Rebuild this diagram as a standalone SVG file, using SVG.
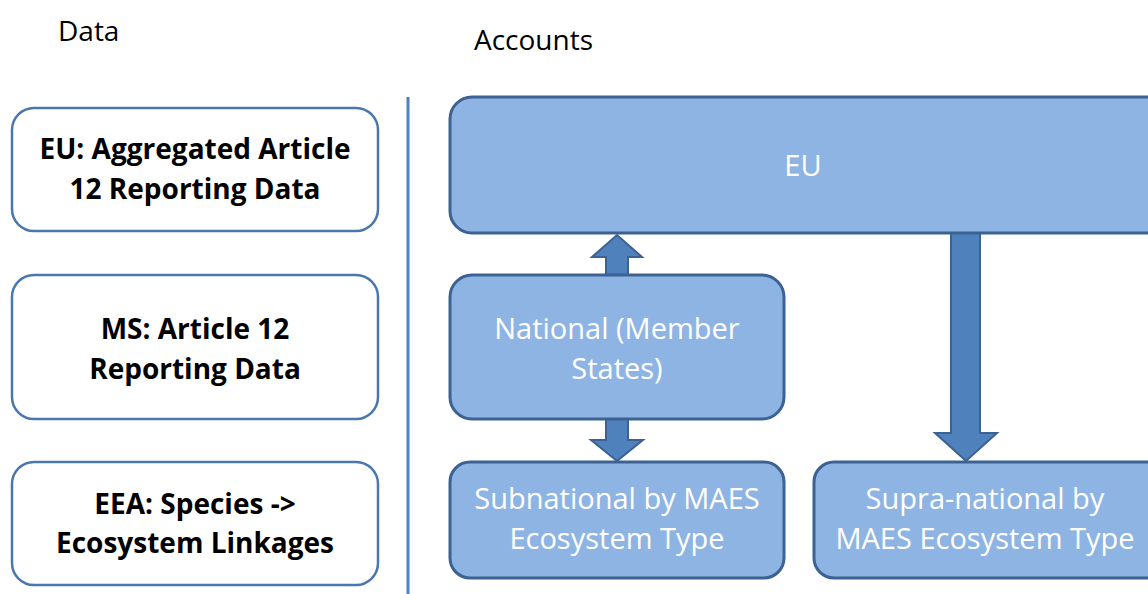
<svg xmlns="http://www.w3.org/2000/svg" width="1148" height="594" viewBox="0 0 1148 594">
<style>
.hdr{font-family:"Open Sans","Liberation Sans",sans-serif;font-size:28px;fill:#000}
.dbox{fill:#fff;stroke:#4a78ae;stroke-width:2.5}
.dtxt{font-family:"Open Sans","Liberation Sans",sans-serif;font-size:28px;font-weight:bold;fill:#000;text-anchor:middle}
.abox{fill:#8eb4e3;stroke:#3b6292;stroke-width:3}
.atxt{font-family:"Open Sans","Liberation Sans",sans-serif;font-size:29px;fill:#fff;text-anchor:middle}
.arr{fill:#4f81bd;stroke:#3b6292;stroke-width:2;stroke-linejoin:miter}
</style>
<rect width="1148" height="594" fill="#fff"/>
<text class="hdr" x="58" y="41">Data</text>
<text class="hdr" x="474" y="50">Accounts</text>
<line x1="408" y1="97" x2="408" y2="594" stroke="#4f81bd" stroke-width="3"/>
<g id="data-eu">
<rect class="dbox" x="12" y="108" width="366" height="123" rx="22"/>
<text class="dtxt" x="195" y="159">EU: Aggregated Article</text>
<text class="dtxt" x="195" y="199">12 Reporting Data</text>
</g>
<g id="data-ms">
<rect class="dbox" x="12" y="275" width="366" height="144" rx="22"/>
<text class="dtxt" x="195" y="339">MS: Article 12</text>
<text class="dtxt" x="195" y="379">Reporting Data</text>
</g>
<g id="data-eea">
<rect class="dbox" x="12" y="462" width="366" height="123" rx="22"/>
<text class="dtxt" x="195" y="514">EEA: Species -&gt;</text>
<text class="dtxt" x="195" y="553">Ecosystem Linkages</text>
</g>
<g id="connectors">
<polygon class="arr" points="606,276 606,257 592,257 617,235 642,257 628,257 628,276"/>
<polygon class="arr" points="606,418 606,440 591,440 617,461 643,440 628,440 628,418"/>
<polygon class="arr" points="951,232 951,433 935,433 966,461 997,433 980,433 980,232"/>
</g>
<g id="acc-eu">
<rect class="abox" x="450" y="97" width="720" height="136" rx="22"/>
<text class="atxt" x="803" y="176">EU</text>
</g>
<g id="acc-national">
<rect class="abox" x="450" y="275" width="334" height="144" rx="22"/>
<text class="atxt" x="617" y="339">National (Member</text>
<text class="atxt" x="617" y="379">States)</text>
</g>
<g id="acc-subnational">
<rect class="abox" x="450" y="462" width="334" height="116" rx="20"/>
<text class="atxt" x="617" y="509">Subnational by MAES</text>
<text class="atxt" x="617" y="549">Ecosystem Type</text>
</g>
<g id="acc-supra">
<rect class="abox" x="814" y="462" width="356" height="116" rx="20"/>
<text class="atxt" x="985" y="509">Supra-national by</text>
<text class="atxt" x="985" y="549">MAES Ecosystem Type</text>
</g>
</svg>
